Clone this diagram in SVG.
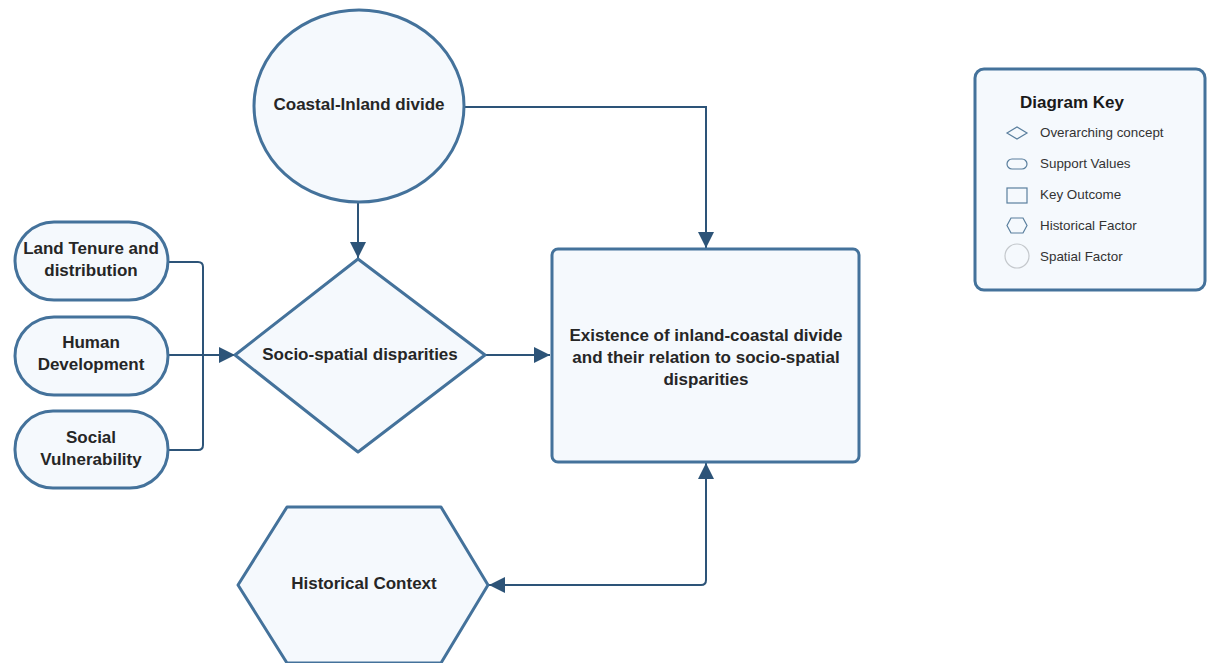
<svg xmlns="http://www.w3.org/2000/svg" width="1207" height="663" viewBox="0 0 1207 663">
<style>
.shape{fill:#f5f9fd;stroke:#44729b;stroke-width:3;stroke-linejoin:round}
.conn{fill:none;stroke:#2d5478;stroke-width:2}
.t{font-family:"Liberation Sans",Arial,sans-serif;font-weight:bold;font-size:17px;fill:#262626;text-anchor:middle}
.k{font-family:"Liberation Sans",Arial,sans-serif;font-size:13.4px;fill:#333}
.ki{fill:none;stroke:#5a7f9e;stroke-width:1.2}
</style>
<defs>
<marker id="ah" viewBox="0 0 10 10" refX="10" refY="5" markerWidth="16" markerHeight="16" markerUnits="userSpaceOnUse" orient="auto-start-reverse">
<path d="M0,0 L10,5 L0,10 z" fill="#2d5478"/>
</marker>
</defs>
<rect width="1207" height="663" fill="#ffffff"/>
<g id="connectors">
<path class="conn" d="M358,202 V258" marker-end="url(#ah)"/>
<path class="conn" d="M464,107 H706 V248" marker-end="url(#ah)"/>
<path class="conn" d="M485,355 H550" marker-end="url(#ah)"/>
<path class="conn" d="M168,262 H198 Q203,262 203,267 V355"/>
<path class="conn" d="M168,450 H198 Q203,450 203,445 V355"/>
<path class="conn" d="M168,355 H235" marker-end="url(#ah)"/>
<path class="conn" d="M706,463 V580 Q706,585 701,585 H489" marker-start="url(#ah)" marker-end="url(#ah)"/>
</g>
<g id="coastal-inland">
<ellipse class="shape" cx="359" cy="106" rx="105" ry="96"/>
<text class="t" x="359" y="110">Coastal-Inland divide</text>
</g>
<g id="socio-spatial">
<path class="shape" d="M358,259 L485,355 L358,452 L235,355 Z"/>
<text class="t" x="360" y="360">Socio-spatial disparities</text>
</g>
<g id="outcome">
<rect class="shape" x="552" y="249" width="307" height="213" rx="6"/>
<text class="t" x="706" y="341">Existence of inland-coastal divide</text>
<text class="t" x="706" y="363">and their relation to socio-spatial</text>
<text class="t" x="706" y="385">disparities</text>
</g>
<g id="land-tenure">
<rect class="shape" x="15" y="222" width="153" height="78" rx="39"/>
<text class="t" x="91" y="254">Land Tenure and</text>
<text class="t" x="91" y="276">distribution</text>
</g>
<g id="human-development">
<rect class="shape" x="15" y="317" width="153" height="78" rx="39"/>
<text class="t" x="91" y="348">Human</text>
<text class="t" x="91" y="370">Development</text>
</g>
<g id="social-vulnerability">
<rect class="shape" x="15" y="411" width="153" height="77" rx="38"/>
<text class="t" x="91" y="443">Social</text>
<text class="t" x="91" y="465">Vulnerability</text>
</g>
<g id="historical-context">
<path class="shape" d="M287,507 L441,507 L488,585 L441,663 L287,663 L238,585 Z"/>
<text class="t" x="364" y="589">Historical Context</text>
</g>
<g id="diagram-key">
<rect x="975" y="69" width="230" height="221" rx="9" fill="#f5f9fd" stroke="#44729b" stroke-width="3"/>
<text x="1020" y="108" font-family="&quot;Liberation Sans&quot;,Arial,sans-serif" font-weight="bold" font-size="17" fill="#1a1a1a">Diagram Key</text>
<path class="ki" d="M1007,133 L1017,127 L1027,133 L1017,139 Z"/>
<text class="k" x="1040" y="137">Overarching concept</text>
<rect class="ki" x="1007" y="159" width="20" height="10" rx="5"/>
<text class="k" x="1040" y="168">Support Values</text>
<rect class="ki" x="1007" y="188" width="20" height="15"/>
<text class="k" x="1040" y="199">Key Outcome</text>
<path class="ki" d="M1011,218 L1023,218 L1027,225.5 L1023,233 L1011,233 L1007,225.5 Z"/>
<text class="k" x="1040" y="230">Historical Factor</text>
<circle cx="1017" cy="256" r="12" fill="none" stroke="#c4c8cc" stroke-width="1.2"/>
<text class="k" x="1040" y="261">Spatial Factor</text>
</g>
</svg>
